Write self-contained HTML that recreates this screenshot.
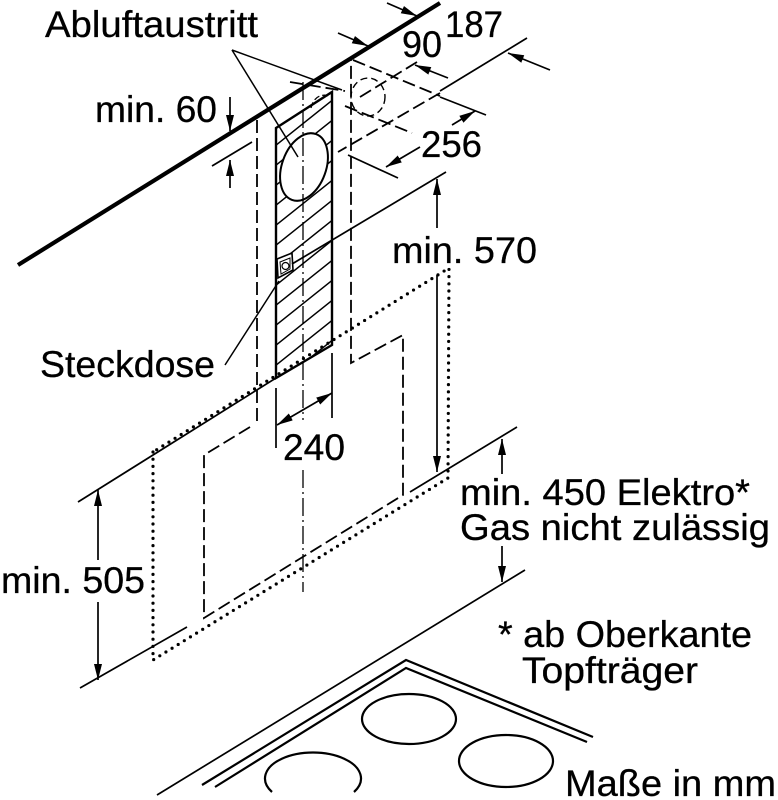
<!DOCTYPE html>
<html><head><meta charset="utf-8">
<style>
html,body{margin:0;padding:0;background:#fff;}
svg{display:block;}
text{font-family:"Liberation Sans",Arial,sans-serif;font-size:37px;fill:#000;stroke:#000;stroke-width:0.3;}
</style></head><body>
<svg width="778" height="800" viewBox="0 0 778 800" xmlns="http://www.w3.org/2000/svg">
<defs>
<marker id="a" markerUnits="userSpaceOnUse" markerWidth="18" markerHeight="10" refX="16" refY="5" orient="auto-start-reverse"><path d="M0,1 L16,5 L0,9 z" fill="#000"/></marker>
<clipPath id="pc"><polygon points="276,128 332,92 332,345 276,378"/></clipPath>
</defs>
<rect width="778" height="800" fill="#fff"/>

<g fill="none" stroke="#000" stroke-width="1.7" stroke-linecap="butt">
<!-- hatched panel -->
<g clip-path="url(#pc)" stroke-width="1.5">
<line x1="270" y1="130" x2="340" y2="74"/>
<line x1="270" y1="150" x2="340" y2="94"/>
<line x1="270" y1="170" x2="340" y2="114"/>
<line x1="270" y1="190" x2="340" y2="134"/>
<line x1="270" y1="210" x2="340" y2="154"/>
<line x1="270" y1="230" x2="340" y2="174"/>
<line x1="270" y1="250" x2="340" y2="194"/>
<line x1="270" y1="270" x2="340" y2="214"/>
<line x1="270" y1="290" x2="340" y2="234"/>
<line x1="270" y1="310" x2="340" y2="254"/>
<line x1="270" y1="330" x2="340" y2="274"/>
<line x1="270" y1="350" x2="340" y2="294"/>
<line x1="270" y1="370" x2="340" y2="314"/>
<line x1="270" y1="390" x2="340" y2="334"/>
<line x1="270" y1="410" x2="340" y2="354"/>
</g>
<ellipse cx="304" cy="167" rx="22" ry="35" transform="rotate(20 304 167)" fill="#fff" stroke-width="2"/>
<!-- socket -->
<polygon points="277,259 292,253 293,270 278,278" fill="#fff" stroke-width="1.6"/>
<polygon points="280,262 290,258 290,269 281,274" fill="none" stroke-width="1"/>
<circle cx="285.5" cy="266" r="3.5" stroke-width="1.2"/>
<polygon points="276,128 332,92 332,345 276,378" stroke-width="2.4"/>
<path d="M311,108 Q315,92 330,96" stroke-width="1.3" stroke-dasharray="6 3"/>

<!-- wall / ceiling thick line -->
<line x1="18" y1="265" x2="440" y2="3" stroke-width="4.2"/>

<!-- dashed hood outline -->
<g stroke-width="1.8" stroke-dasharray="13 5">
<path d="M250,427 L204,455 L204,618 L403,495 L403,335 L351,363 L351,60"/>
<path d="M257,120 L257,423"/>
<!-- top box -->
<path d="M353,60 L440,96"/>
<path d="M417,62 L360,97"/>
<path d="M440,93 L338,152"/>
<path d="M345,106 L412,133"/>
<path d="M290,82 L345,91"/>
</g>
<ellipse cx="368" cy="97" rx="17" ry="19" stroke-width="1.4" stroke-dasharray="7 4"/>

<!-- center dash-dot line -->
<g stroke-width="1.3" stroke-dasharray="18 4 2 4">
<line x1="303" y1="82" x2="303" y2="420"/>
<line x1="303" y1="470" x2="303" y2="592"/>
</g>

<!-- dotted clearance outline -->
<path d="M153,452 L153,660 L448,478 L449,268 L153,452" stroke-width="3.2" stroke-dasharray="0 7.2" stroke-linecap="round"/>

<!-- solid extension lines -->
<line x1="78" y1="502" x2="276" y2="378"/>
<line x1="80" y1="688" x2="187" y2="627"/>
<line x1="410" y1="492" x2="517" y2="427"/>
<line x1="157" y1="795" x2="525" y2="570"/>
<line x1="292" y1="264" x2="446" y2="172"/>
<line x1="440" y1="91" x2="527" y2="38"/>
<line x1="440" y1="97" x2="486" y2="115"/>
<line x1="348" y1="155" x2="398" y2="178"/>
<line x1="212" y1="166" x2="252" y2="142"/>
<line x1="276" y1="388" x2="276" y2="448"/>
<line x1="332" y1="353" x2="332" y2="418"/>

<!-- leaders -->
<line x1="232" y1="50" x2="342" y2="90" stroke-width="1.5"/>
<line x1="232" y1="50" x2="298" y2="157" stroke-width="1.5"/>
<line x1="225" y1="365" x2="279" y2="281" stroke-width="1.5"/>

<!-- arrows -->
<line x1="230" y1="97" x2="230" y2="131" marker-end="url(#a)"/>
<line x1="230" y1="188" x2="230" y2="160" marker-end="url(#a)"/>
<line x1="387" y1="3" x2="417" y2="16" marker-end="url(#a)"/>
<line x1="338" y1="33" x2="368" y2="46" marker-end="url(#a)"/>
<line x1="550" y1="70" x2="508" y2="53" marker-end="url(#a)"/>
<line x1="448" y1="78" x2="415" y2="65" marker-end="url(#a)"/>
<line x1="452" y1="125" x2="475" y2="111" marker-end="url(#a)"/>
<line x1="420" y1="147" x2="386" y2="167" marker-end="url(#a)"/>
<line x1="437" y1="228" x2="437" y2="179" marker-end="url(#a)"/>
<line x1="437" y1="275" x2="437" y2="472" marker-end="url(#a)"/>
<line x1="502" y1="474" x2="502" y2="439" marker-end="url(#a)"/>
<line x1="502" y1="546" x2="502" y2="582" marker-end="url(#a)"/>
<line x1="98" y1="560" x2="98" y2="490" marker-end="url(#a)"/>
<line x1="98" y1="602" x2="98" y2="680" marker-end="url(#a)"/>
<line x1="277" y1="425" x2="332" y2="393" marker-start="url(#a)" marker-end="url(#a)"/>

<!-- hob -->
<g stroke-width="2.2">
<path d="M202,785 L406,660 L593,737"/>
<path d="M215,787 L406,668 L587,742"/>
<ellipse cx="409" cy="719" rx="47" ry="25"/>
<ellipse cx="506" cy="761" rx="47" ry="26"/>
<path d="M272,792 A48,26 0 1 1 354,792"/>
</g>
</g>

<!-- labels -->
<text x="45" y="37" textLength="213" lengthAdjust="spacingAndGlyphs">Abluftaustritt</text>
<text x="95" y="122" textLength="122" lengthAdjust="spacingAndGlyphs">min. 60</text>
<text x="445" y="37" textLength="58" lengthAdjust="spacingAndGlyphs">187</text>
<text x="402" y="57" textLength="40" lengthAdjust="spacingAndGlyphs">90</text>
<text x="421" y="157" textLength="61" lengthAdjust="spacingAndGlyphs">256</text>
<text x="392" y="263" textLength="145" lengthAdjust="spacingAndGlyphs">min. 570</text>
<text x="40" y="377" textLength="175" lengthAdjust="spacingAndGlyphs">Steckdose</text>
<text x="283" y="460" textLength="62" lengthAdjust="spacingAndGlyphs">240</text>
<text x="1" y="593" textLength="144" lengthAdjust="spacingAndGlyphs">min. 505</text>
<text x="460" y="505" textLength="290" lengthAdjust="spacingAndGlyphs">min. 450 Elektro*</text>
<text x="460" y="540" textLength="310" lengthAdjust="spacingAndGlyphs">Gas nicht zulässig</text>
<text x="498" y="647" textLength="254" lengthAdjust="spacingAndGlyphs">* ab Oberkante</text>
<text x="522" y="683" textLength="176" lengthAdjust="spacingAndGlyphs">Topfträger</text>
<text x="565" y="796" textLength="211" lengthAdjust="spacingAndGlyphs">Maße in mm</text>
</svg>
</body></html>
